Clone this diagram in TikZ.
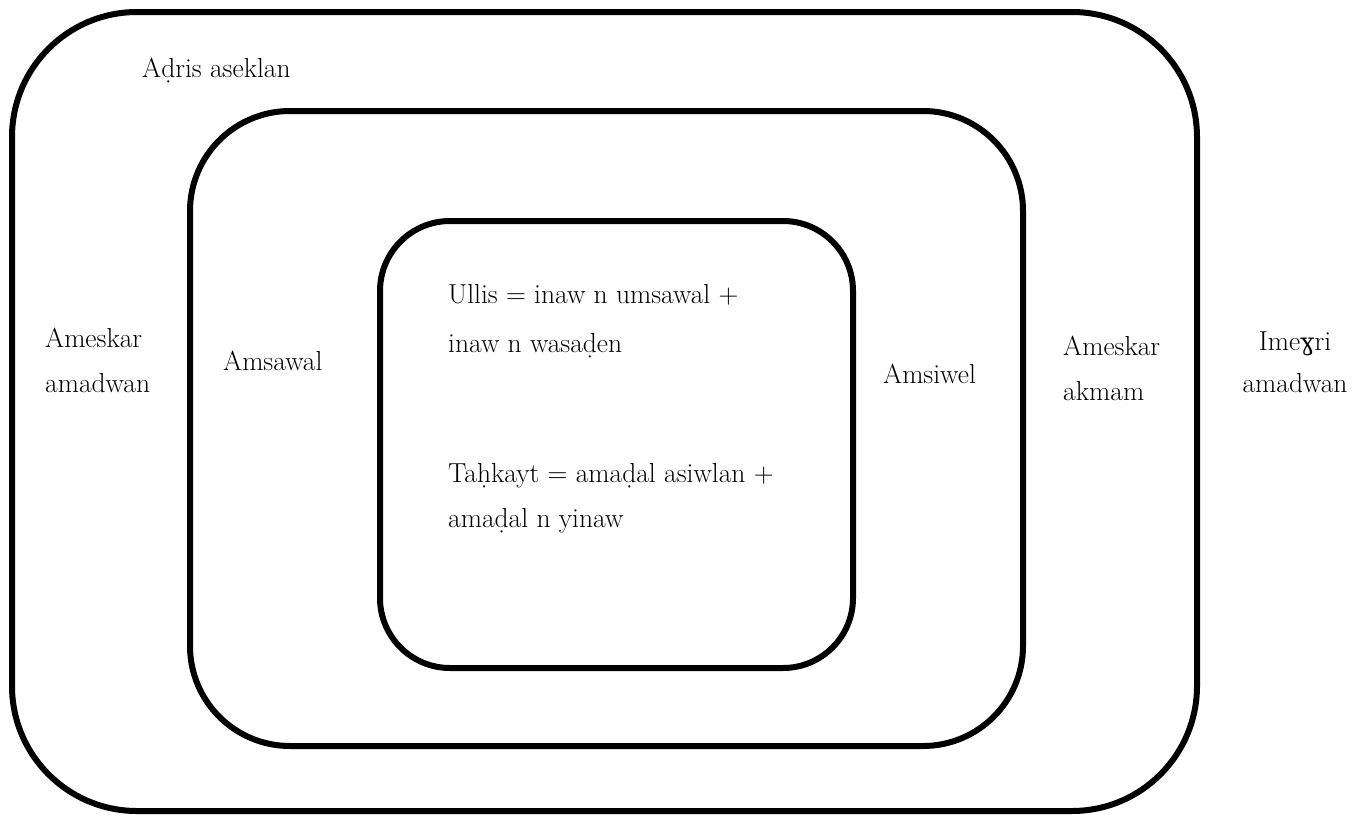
\documentclass[tikz,border=0pt]{standalone}
\usepackage{fontspec}
\newfontfamily\dvs{DejaVu Serif}
\begin{document}
\begin{tikzpicture}[x=1pt,y=1pt,
  frame/.style={draw=black,line width=6pt},
  lbl/.style={anchor=base west,inner sep=0pt,font=\fontsize{27.5}{32}\selectfont},
  lblc/.style={anchor=base,inner sep=0pt,font=\fontsize{27.5}{32}\selectfont}]
\useasboundingbox (0,0) rectangle (1357,-814);
% frames
\draw[frame,rounded corners=125pt] (12,-12) rectangle (1197,-811);
\draw[frame,rounded corners=100pt] (190,-111) rectangle (1023,-746);
\draw[frame,rounded corners=70pt] (380,-221) rectangle (853,-668);
% labels
\node[lbl] (adris) at (142,-77) {Aḍris aseklan};
\node[lbl] (amesk1) at (45,-347) {Ameskar};
\node[lbl] (amesk1b) at (45,-392) {amadwan};
\node[lbl] (amsawal) at (223,-370) {Amsawal};
\node[lbl] (ullis) at (448,-303) {Ullis = inaw n umsawal +};
\node[lbl] (ullisb) at (448,-352) {inaw n wasaḍen};
\node[lbl] (tahk) at (448,-482) {Taḥkayt = amaḍal asiwlan +};
\node[lbl] (tahkb) at (448,-527) {amaḍal n yinaw};
\node[lbl] (amsiwel) at (883,-383) {Amsiwel};
\node[lbl] (amesk2) at (1063,-355) {Ameskar};
\node[lbl] (amesk2b) at (1063,-400) {akmam};
\node[lblc] (imeg) at (1295,-350) {Ime{\dvs\fontsize{24}{30}\selectfont ɣ}ri};
\node[lblc] (imegb) at (1295,-392) {amadwan};
\end{tikzpicture}
\end{document}
